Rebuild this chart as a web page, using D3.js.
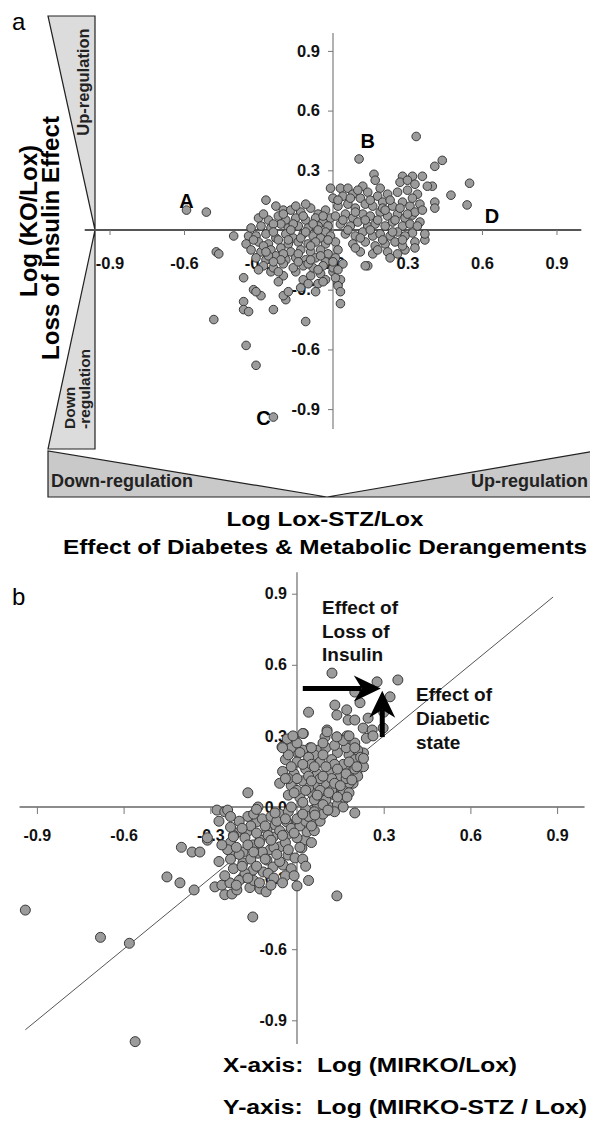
<!DOCTYPE html>
<html>
<head>
<meta charset="utf-8">
<script src="https://cdn.jsdelivr.net/npm/d3@7"></script>
<style>
  body { margin: 0; background: #fff; }
  text { font-family: "Liberation Sans", Arial, sans-serif; }
</style>
</head>
<body>
<svg id="chart" width="590" height="1124"></svg>
<script>
// tick values shared by both panels
const ticks = [-0.9, -0.6, -0.3, 0, 0.3, 0.6, 0.9];

// panel a: Log(Lox-STZ/Lox) vs Log(KO/Lox)
const outliersA = [
  [-0.59, 0.10], [-0.51, 0.09], [-0.40, -0.03], [-0.34, -0.03], [-0.47, -0.11], [-0.46, -0.12],
  [-0.27, 0.15], [-0.23, 0.12], [-0.20, 0.10],
  [-0.48, -0.45], [-0.36, -0.24], [-0.36, -0.36], [-0.36, -0.40], [-0.34, -0.41], [-0.32, -0.30],
  [-0.29, -0.33], [-0.24, -0.40], [-0.19, -0.35], [-0.11, -0.46], [0.03, -0.37], [0.14, -0.18],
  [-0.35, -0.58], [-0.31, -0.68], [-0.24, -0.94],
  [0.105, 0.357], [0.335, 0.47], [0.41, 0.32], [0.44, 0.35], [0.55, 0.235], [0.475, 0.175],
  [0.54, 0.126], [0.40, 0.22], [0.41, 0.14], [0.41, 0.11], [0.36, 0.27], [0.32, 0.27], [0.28, 0.27],
  [0.165, 0.28], [0.13, -0.18], [0.29, -0.10], [0.37, -0.05], [0.37, -0.02], [0.32, -0.015],
  [0.35, 0.04], [0.32, 0.075]
];
const belowA = [
  [-0.25, -0.21], [-0.20, -0.23], [-0.15, -0.21], [-0.09, -0.23], [-0.05, -0.22], [0.00, -0.21],
  [-0.03, -0.25], [-0.06, -0.27], [-0.31, -0.31], [-0.20, -0.33], [-0.18, -0.31], [-0.13, -0.29],
  [-0.07, -0.31], [-0.04, -0.26], [0.02, -0.27], [0.03, -0.25], [-0.22, -0.26], [-0.12, -0.25],
  [-0.10, -0.27], [0.02, -0.28], [0.03, -0.31], [0.01, -0.24]
];
const leftClusterA = [
  [-0.17, 0.10], [-0.13, 0.09], [-0.09, 0.11], [-0.06, 0.08], [-0.03, 0.10], [-0.01, 0.06],
  [-0.30, 0.06], [-0.26, 0.05], [-0.22, 0.07], [-0.19, 0.05], [-0.15, 0.06], [-0.11, 0.05], [-0.07, 0.06], [-0.04, 0.04], [-0.02, 0.02],
  [-0.33, 0.01], [-0.29, 0.02], [-0.25, 0.01], [-0.21, 0.03], [-0.18, 0.01], [-0.14, 0.02], [-0.10, 0.01], [-0.06, 0.02], [-0.03, -0.01],
  [-0.31, -0.03], [-0.27, -0.02], [-0.23, -0.04], [-0.19, -0.02], [-0.16, -0.04], [-0.12, -0.02], [-0.08, -0.03], [-0.05, -0.04], [-0.01, -0.03],
  [-0.35, -0.07], [-0.30, -0.06], [-0.26, -0.07], [-0.22, -0.05], [-0.18, -0.07], [-0.14, -0.06], [-0.10, -0.07], [-0.07, -0.06], [-0.03, -0.07], [0.01, -0.06],
  [-0.33, -0.10], [-0.29, -0.11], [-0.25, -0.10], [-0.21, -0.09], [-0.17, -0.11], [-0.13, -0.10], [-0.09, -0.11], [-0.05, -0.10], [-0.02, -0.12], [0.02, -0.10],
  [-0.31, -0.14], [-0.27, -0.15], [-0.23, -0.13], [-0.19, -0.15], [-0.15, -0.14], [-0.11, -0.15], [-0.07, -0.14], [-0.03, -0.16], [0.01, -0.14],
  [-0.28, -0.18], [-0.24, -0.19], [-0.20, -0.17], [-0.16, -0.19], [-0.12, -0.18], [-0.08, -0.19], [-0.04, -0.18], [0.00, -0.19], [0.04, -0.17],
  [-0.28, 0.08], [-0.24, 0.03], [-0.20, 0.08], [-0.16, 0.03], [-0.12, 0.07], [-0.08, 0.03], [-0.04, 0.07], [-0.32, -0.05],
  [-0.28, -0.08], [-0.24, -0.01], [-0.20, -0.12], [-0.17, 0.00], [-0.13, -0.04], [-0.09, -0.08], [-0.06, 0.00], [-0.02, -0.05],
  [-0.26, -0.13], [-0.21, -0.15], [-0.14, -0.12], [-0.10, -0.17], [-0.05, -0.13], [0.00, -0.16], [-0.30, -0.20], [-0.22, -0.21],
  [-0.14, -0.16], [-0.06, -0.20], [0.02, -0.20],
  [-0.15, 0.12], [-0.11, 0.13], [-0.18, -0.05], [-0.11, -0.01], [-0.24, -0.16], [-0.09, -0.15], [-0.27, -0.11]
];
const rightClusterA = [
  [-0.01, 0.21], [0.03, 0.21], [0.06, 0.21], [0.12, 0.22], [0.17, 0.25], [0.19, 0.21], [0.27, 0.24], [0.30, 0.25], [0.33, 0.23], [0.38, 0.22],
  [0.00, 0.16], [0.04, 0.17], [0.08, 0.18], [0.11, 0.16], [0.14, 0.19], [0.18, 0.17], [0.22, 0.18], [0.26, 0.19], [0.30, 0.20], [0.34, 0.18],
  [0.02, 0.12], [0.06, 0.13], [0.09, 0.11], [0.13, 0.13], [0.16, 0.12], [0.20, 0.14], [0.24, 0.12], [0.28, 0.14], [0.31, 0.12], [0.35, 0.13],
  [0.01, 0.07], [0.05, 0.08], [0.08, 0.06], [0.12, 0.08], [0.15, 0.07], [0.19, 0.09], [0.22, 0.07], [0.26, 0.08], [0.29, 0.06], [0.33, 0.09],
  [0.03, 0.03], [0.07, 0.02], [0.10, 0.04], [0.14, 0.02], [0.17, 0.03], [0.21, 0.02], [0.24, 0.04], [0.28, 0.02], [0.31, 0.03],
  [0.05, -0.02], [0.09, -0.03], [0.12, -0.01], [0.16, -0.03], [0.19, -0.02], [0.23, -0.03], [0.26, -0.01], [0.29, -0.03],
  [0.08, -0.07], [0.13, -0.06], [0.17, -0.08], [0.21, -0.07], [0.25, -0.06], [0.28, -0.08], [0.33, -0.06],
  [0.11, -0.11], [0.16, -0.12], [0.22, -0.11], [0.26, -0.12],
  [0.02, 0.15], [0.07, 0.16], [0.10, 0.20], [0.15, 0.15], [0.20, 0.11], [0.23, 0.15], [0.27, 0.11], [0.32, 0.16], [0.36, 0.10],
  [0.04, 0.05], [0.09, 0.09], [0.13, 0.05], [0.18, 0.05], [0.21, 0.10], [0.25, 0.05], [0.30, 0.08], [0.34, 0.02],
  [0.06, 0.00], [0.11, -0.04], [0.15, 0.00], [0.20, -0.05], [0.24, -0.01], [0.28, -0.05], [0.33, -0.09], [0.18, -0.10],
  [0.23, -0.14], [0.09, -0.09]
];
// gene letters in panel a (data coords of label baseline)
const lettersA = [
  { t: "A", x: -0.59, y: 0.11 }, { t: "B", x: 0.14, y: 0.41 },
  { t: "C", x: -0.28, y: -0.98 }, { t: "D", x: 0.64, y: 0.035 }
];

// panel b: Log(MIRKO/Lox) vs Log(MIRKO-STZ/Lox)
const outliersB = [
  [0.121, 0.565], [0.277, 0.528], [0.349, 0.536], [0.322, 0.465], [0.20, 0.485], [0.218, 0.44], [0.04, 0.40],
  [0.131, 0.43], [0.138, 0.388], [0.172, 0.41], [0.177, 0.367], [0.20, 0.367], [0.246, 0.375], [0.229, 0.333],
  [0.26, 0.325], [0.24, 0.29], [0.263, 0.30], [0.298, 0.333], [0.30, 0.40],
  [0.022, 0.31], [-0.01, 0.295], [-0.034, 0.287], [-0.052, 0.253], [0.0, 0.232], [0.045, 0.25], [0.073, 0.24],
  [0.097, 0.295], [0.104, 0.325], [0.138, 0.295], [0.173, 0.30], [0.177, 0.27], [0.20, 0.253], [0.23, 0.228],
  [0.224, 0.186], [0.207, 0.143], [0.194, 0.10],
  [-0.17, 0.06], [-0.277, -0.013], [-0.25, -0.02], [0.2, -0.025], [-0.135, 0.0], [-0.17, -0.04], [0.11, -0.013],
  [-0.94, -0.435], [-0.68, -0.55], [-0.58, -0.575], [-0.56, -0.99], [-0.45, -0.295], [-0.405, -0.32],
  [-0.356, -0.35], [-0.40, -0.17], [-0.363, -0.19], [-0.336, -0.19], [-0.31, -0.14],
  [-0.284, -0.337], [-0.26, -0.33], [-0.25, -0.37], [-0.232, -0.32], [-0.225, -0.367], [-0.208, -0.35],
  [-0.163, -0.34], [-0.153, -0.464], [-0.128, -0.346], [-0.107, -0.358], [0.0, -0.333], [0.04, -0.31],
  [0.138, -0.375]
];
const lowerClusterB = [
  [-0.24, -0.013], [-0.23, -0.15], [-0.225, -0.195], [-0.21, -0.11], [-0.187, -0.236], [-0.19, -0.30],
  [-0.14, -0.063], [-0.173, -0.105], [-0.152, -0.16], [-0.152, -0.266], [-0.117, -0.274], [-0.104, -0.224],
  [-0.093, -0.18], [-0.083, -0.253], [-0.048, -0.245], [-0.031, -0.203], [-0.059, -0.168], [-0.035, -0.118],
  [-0.007, -0.215], [0.017, -0.173], [0.028, -0.139], [0.035, -0.105], [0.055, -0.013], [0, -0.068],
  [-0.035, -0.063], [-0.076, -0.076], [-0.104, -0.097], [-0.083, -0.127], [-0.128, -0.139], [-0.135, -0.195],
  [-0.187, -0.19],
  [-0.20, -0.06], [-0.16, -0.08], [-0.12, -0.05], [-0.09, -0.04], [-0.06, -0.03], [-0.03, -0.02],
  [-0.22, -0.12], [-0.18, -0.13], [-0.14, -0.11], [-0.10, -0.12], [-0.06, -0.10], [-0.02, -0.09], [0.01, -0.08],
  [-0.24, -0.18], [-0.20, -0.20], [-0.16, -0.22], [-0.12, -0.19], [-0.08, -0.17], [-0.04, -0.15], [0.00, -0.13],
  [-0.22, -0.26], [-0.18, -0.28], [-0.14, -0.25], [-0.10, -0.28], [-0.06, -0.23], [-0.02, -0.26], [0.02, -0.22],
  [-0.20, -0.31], [-0.15, -0.31], [-0.08, -0.30], [-0.04, -0.29],
  [-0.27, -0.06], [-0.23, -0.04], [-0.19, -0.09], [-0.15, -0.03], [-0.11, -0.08], [-0.07, -0.06], [-0.04, -0.05], [0.02, -0.03],
  [-0.26, -0.16], [-0.21, -0.17], [-0.17, -0.16], [-0.13, -0.15], [-0.09, -0.14], [-0.05, -0.12], [-0.01, -0.11], [0.03, -0.06],
  [-0.27, -0.23], [-0.23, -0.22], [-0.19, -0.25], [-0.15, -0.19], [-0.11, -0.22], [-0.07, -0.20], [-0.03, -0.18], [0.01, -0.17],
  [-0.25, -0.29], [-0.21, -0.33], [-0.17, -0.30], [-0.13, -0.32], [-0.09, -0.33], [-0.05, -0.32], [-0.01, -0.29], [0.03, -0.25],
  [-0.31, -0.13], [-0.23, -0.085], [-0.22, -0.125], [-0.14, -0.01], [-0.076, -0.025], [0.06, -0.10], [0.05, -0.15], [0.06, -0.06]
];
const upperClusterB = [
  [-0.02, 0.25], [0.02, 0.24], [0.06, 0.22], [0.10, 0.25], [0.14, 0.23], [0.18, 0.22],
  [-0.04, 0.20], [0.00, 0.19], [0.04, 0.21], [0.08, 0.19], [0.12, 0.20], [0.16, 0.18], [0.20, 0.20], [0.23, 0.17],
  [-0.05, 0.15], [-0.01, 0.14], [0.03, 0.16], [0.07, 0.14], [0.11, 0.15], [0.15, 0.13], [0.19, 0.15],
  [-0.06, 0.10], [-0.02, 0.09], [0.02, 0.11], [0.06, 0.09], [0.10, 0.10], [0.14, 0.08], [0.18, 0.10],
  [-0.03, 0.05], [0.01, 0.04], [0.05, 0.06], [0.09, 0.04], [0.13, 0.05], [0.16, 0.03],
  [-0.02, 0.00], [0.03, -0.01], [0.07, 0.01], [0.11, 0.00], [0.00, -0.05], [0.04, -0.04], [0.08, -0.06],
  [0.00, 0.27], [0.05, 0.18], [0.09, 0.22], [0.13, 0.18], [0.17, 0.25], [0.21, 0.24], [-0.03, 0.12],
  [0.04, 0.13], [0.08, 0.12], [0.12, 0.12], [0.17, 0.12], [0.21, 0.13], [0.00, 0.07], [0.04, 0.08],
  [0.08, 0.07], [0.12, 0.07], [0.16, 0.07], [0.02, 0.02], [0.06, 0.03], [0.10, 0.03], [0.14, 0.01],
  [0.05, -0.08], [0.09, -0.03],
  [-0.03, 0.22], [0.01, 0.23], [0.05, 0.25], [0.09, 0.27], [0.13, 0.26], [0.16, 0.28], [0.20, 0.27],
  [-0.02, 0.17], [0.02, 0.18], [0.06, 0.17], [0.10, 0.17], [0.14, 0.16], [0.18, 0.19], [0.22, 0.21],
  [-0.04, 0.12], [0.00, 0.12], [0.05, 0.11], [0.09, 0.13], [0.13, 0.10], [0.17, 0.14], [0.20, 0.16],
  [-0.01, 0.06], [0.03, 0.07], [0.07, 0.05], [0.11, 0.06], [0.15, 0.09], [0.18, 0.06],
  [0.02, -0.03], [0.06, -0.02], [0.09, 0.01], [0.13, -0.02], [0.16, 0.00],
  [-0.014, 0.30], [0.02, 0.31], [-0.05, 0.25], [0.104, 0.317], [0.138, 0.296], [0.18, 0.30], [0.20, 0.25],
  [0.23, 0.205], [0.207, 0.17], [0.19, 0.114], [0.173, 0.042], [0.14, 0.042], [0.107, -0.013], [0.062, -0.034]
];
// identity reference line and the two effect arrows in panel b
const diagonalB = [[-0.94, -0.94], [0.886, 0.886]];
const arrowsB = [
  { from: [0.02, 0.50], to: [0.29, 0.50] },
  { from: [0.295, 0.295], to: [0.295, 0.49] }
];

const svg = d3.select("#chart");
const fmt = d => d.toFixed(1);
const dotFill = "#9b9b9b", dotStroke = "#3a3a3a";

// ---------- panel a ----------
const xA = d3.scaleLinear().domain([-1, 1]).range([84.7, 581.3]);
const yA = d3.scaleLinear().domain([-1, 1]).range([429, 31]);

svg.append("text").attr("x", 12).attr("y", 30)
  .attr("font-size", 24).text("a");

// regulation wedges
const wedge = pts => "M" + pts.map(p => p.join(",")).join("L") + "Z";
const wedges = svg.append("g").attr("stroke", "#222").attr("stroke-width", 1.2);
wedges.append("path").attr("d", wedge([[48, 16], [95, 16], [95, 230]])).attr("fill", "#dcdcdc");
wedges.append("path").attr("d", wedge([[95, 230], [95, 449], [48, 449]])).attr("fill", "#dcdcdc");
wedges.append("path").attr("d", wedge([[48, 451], [48, 497], [327, 497]])).attr("fill", "#c9c9c9");
wedges.append("path").attr("d", wedge([[327, 497], [595, 497], [595, 451]])).attr("fill", "#c9c9c9");

svg.append("text").attr("transform", "translate(89,82) rotate(-90)")
  .attr("text-anchor", "middle").attr("font-size", 16.5).attr("font-weight", "bold")
  .attr("fill", "#222").text("Up-regulation");
svg.append("text").attr("transform", "translate(75,429) rotate(-90)")
  .attr("font-size", 15.5).attr("font-weight", "bold").attr("fill", "#222").text("Down");
svg.append("text").attr("transform", "translate(90,429) rotate(-90)")
  .attr("font-size", 15.5).attr("font-weight", "bold").attr("fill", "#222").text("-regulation");
svg.append("text").attr("x", 51).attr("y", 487)
  .attr("font-size", 18).attr("font-weight", "bold").attr("fill", "#222").text("Down-regulation");
svg.append("text").attr("x", 588).attr("y", 487).attr("text-anchor", "end")
  .attr("font-size", 18).attr("font-weight", "bold").attr("fill", "#222").text("Up-regulation");

// axis lines
svg.append("line").attr("x1", xA(-1)).attr("x2", xA(1)).attr("y1", yA(0)).attr("y2", yA(0))
  .attr("stroke", "#555").attr("stroke-width", 2);
svg.append("line").attr("x1", xA(0)).attr("x2", xA(0)).attr("y1", yA(0.99)).attr("y2", yA(-1))
  .attr("stroke", "#888").attr("stroke-width", 1.3);

function styleAxis(g, size) {
  g.select(".domain").remove();
  g.selectAll(".tick line").attr("stroke", "#777");
  g.selectAll(".tick text").attr("fill", "#111").attr("font-size", size)
    .attr("font-weight", "bold").attr("font-family", '"Liberation Sans", Arial, sans-serif');
}

svg.append("g").attr("transform", `translate(0,${yA(0)})`)
  .call(d3.axisBottom(xA).tickValues(ticks).tickSize(5).tickPadding(22).tickFormat(fmt))
  .call(g => styleAxis(g, 16.5));
svg.append("g").attr("transform", `translate(${xA(0)},0)`)
  .call(d3.axisLeft(yA).tickValues(ticks.filter(d => d !== 0)).tickSize(5).tickPadding(8).tickFormat(fmt))
  .call(g => styleAxis(g, 16.5));

const dotsA = svg.append("g").attr("fill", dotFill).attr("stroke", dotStroke).attr("stroke-width", 1);
[outliersA, belowA, leftClusterA, rightClusterA].forEach(set => {
  dotsA.selectAll(null).data(set).enter().append("circle")
    .attr("cx", d => xA(d[0])).attr("cy", d => yA(d[1])).attr("r", 4.3);
});

svg.append("g").selectAll("text").data(lettersA).enter().append("text")
  .attr("x", d => xA(d.x)).attr("y", d => yA(d.y))
  .attr("text-anchor", "middle").attr("font-size", 20).attr("font-weight", "bold")
  .text(d => d.t);

// axis titles
svg.append("text").attr("transform", "translate(37,221) rotate(-90)")
  .attr("text-anchor", "middle").attr("font-size", 23).attr("font-weight", "bold")
  .attr("textLength", 152).attr("lengthAdjust", "spacingAndGlyphs").text("Log (KO/Lox)");
svg.append("text").attr("transform", "translate(59,238) rotate(-90)")
  .attr("text-anchor", "middle").attr("font-size", 23).attr("font-weight", "bold")
  .attr("textLength", 244).attr("lengthAdjust", "spacingAndGlyphs").text("Loss of Insulin Effect");
svg.append("text").attr("x", 325).attr("y", 526)
  .attr("text-anchor", "middle").attr("font-size", 21).attr("font-weight", "bold")
  .attr("textLength", 197).attr("lengthAdjust", "spacingAndGlyphs").text("Log Lox-STZ/Lox");
svg.append("text").attr("x", 325).attr("y", 554)
  .attr("text-anchor", "middle").attr("font-size", 21).attr("font-weight", "bold")
  .attr("textLength", 524).attr("lengthAdjust", "spacingAndGlyphs")
  .text("Effect of Diabetes & Metabolic Derangements");

// ---------- panel b ----------
const xB = d3.scaleLinear().domain([-1, 1]).range([8, 586]);
const yB = d3.scaleLinear().domain([-1, 1]).range([1044, 570]);

svg.append("text").attr("x", 12).attr("y", 605)
  .attr("font-size", 24).text("b");

svg.append("line").attr("x1", xB(-0.96)).attr("x2", xB(0.995)).attr("y1", yB(0)).attr("y2", yB(0))
  .attr("stroke", "#666").attr("stroke-width", 1.4);
svg.append("line").attr("x1", xB(0)).attr("x2", xB(0)).attr("y1", yB(0.99)).attr("y2", yB(-1))
  .attr("stroke", "#777").attr("stroke-width", 1.3);

svg.append("g").attr("transform", `translate(0,${yB(0)})`)
  .call(d3.axisBottom(xB).tickValues(ticks.filter(d => d !== 0)).tickSize(7).tickPadding(16).tickFormat(fmt))
  .call(g => styleAxis(g, 16));
svg.append("g").attr("transform", `translate(${xB(0)},0)`)
  .call(d3.axisLeft(yB).tickValues(ticks).tickSize(5).tickPadding(5).tickFormat(fmt))
  .call(g => styleAxis(g, 16));

svg.append("line")
  .attr("x1", xB(diagonalB[0][0])).attr("y1", yB(diagonalB[0][1]))
  .attr("x2", xB(diagonalB[1][0])).attr("y2", yB(diagonalB[1][1]))
  .attr("stroke", "#555").attr("stroke-width", 1);

const dotsB = svg.append("g").attr("fill", dotFill).attr("stroke", dotStroke).attr("stroke-width", 1);
[outliersB, lowerClusterB, upperClusterB].forEach(set => {
  dotsB.selectAll(null).data(set).enter().append("circle")
    .attr("cx", d => xB(d[0])).attr("cy", d => yB(d[1])).attr("r", 5);
});

// arrows: thick shaft plus a swept-back head
const arrowG = svg.append("g").attr("fill", "#000");
arrowsB.forEach(a => {
  const x1 = xB(a.from[0]), y1 = yB(a.from[1]), x2 = xB(a.to[0]), y2 = yB(a.to[1]);
  const len = Math.hypot(x2 - x1, y2 - y1), ux = (x2 - x1) / len, uy = (y2 - y1) / len;
  const px = -uy, py = ux;
  const headL = 27, headW = 13, notch = 8;
  arrowG.append("line").attr("x1", x1).attr("y1", y1)
    .attr("x2", x2 - ux * (headL - notch)).attr("y2", y2 - uy * (headL - notch))
    .attr("stroke", "#000").attr("stroke-width", 5);
  const bx = x2 - ux * headL, by = y2 - uy * headL;
  arrowG.append("path").attr("d",
    `M${x2},${y2}L${bx + px * headW},${by + py * headW}` +
    `L${x2 - ux * (headL - notch)},${y2 - uy * (headL - notch)}` +
    `L${bx - px * headW},${by - py * headW}Z`);
});

const noteB = svg.append("g").attr("font-size", 19).attr("font-weight", "bold").attr("fill", "#111");
["Effect of", "Loss of", "Insulin"].forEach((t, i) =>
  noteB.append("text").attr("x", 322).attr("y", 614 + i * 23.5).text(t));
["Effect of", "Diabetic", "state"].forEach((t, i) =>
  noteB.append("text").attr("x", 416).attr("y", 701 + i * 24).text(t));

svg.append("text").attr("x", 223).attr("y", 1072).attr("font-size", 20).attr("font-weight", "bold")
  .attr("textLength", 294).attr("lengthAdjust", "spacingAndGlyphs")
  .style("white-space", "pre").text("X-axis:  Log (MIRKO/Lox)");
svg.append("text").attr("x", 223).attr("y", 1114).attr("font-size", 20).attr("font-weight", "bold")
  .attr("textLength", 364).attr("lengthAdjust", "spacingAndGlyphs")
  .style("white-space", "pre").text("Y-axis:  Log (MIRKO-STZ / Lox)");
</script>
</body>
</html>
